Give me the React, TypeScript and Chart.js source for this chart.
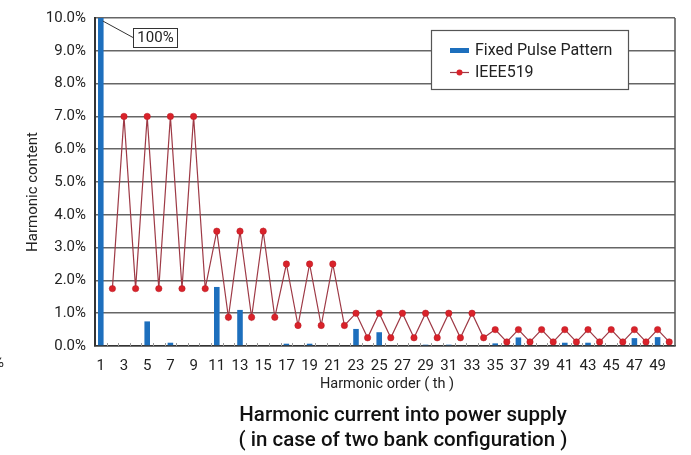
import React, { useEffect, useRef } from "react";
import { Chart, registerables } from "chart.js";

Chart.register(...registerables);

const categories = [
  "1", "2", "3", "4", "5", "6", "7", "8", "9", "10",
  "11", "12", "13", "14", "15", "16", "17", "18", "19", "20",
  "21", "22", "23", "24", "25", "26", "27", "28", "29", "30",
  "31", "32", "33", "34", "35", "36", "37", "38", "39", "40",
  "41", "42", "43", "44", "45", "46", "47", "48", "49", "50",
];

const fixedPulsePattern = [
  100, null, null, null, 0.75, null, 0.1, null, null, null,
  1.8, null, 1.1, null, null, null, 0.07, null, 0.07, null,
  null, null, 0.52, null, 0.42, null, null, null, 0.04, null,
  0.04, null, null, null, 0.08, null, 0.26, null, null, null,
  0.1, null, 0.1, null, null, null, 0.24, null, 0.27, null,
];

const ieee519 = [
  null, 1.75, 7, 1.75, 7, 1.75, 7, 1.75, 7, 1.75,
  3.5, 0.875, 3.5, 0.875, 3.5, 0.875, 2.5, 0.625, 2.5, 0.625,
  2.5, 0.625, 1, 0.25, 1, 0.25, 1, 0.25, 1, 0.25,
  1, 0.25, 1, 0.25, 0.5, 0.125, 0.5, 0.125, 0.5, 0.125,
  0.5, 0.125, 0.5, 0.125, 0.5, 0.125, 0.5, 0.125, 0.5, 0.125,
];

const yTicks = [0, 1, 2, 3, 4, 5, 6, 7, 8, 9, 10];

const titleLines = [
  "Harmonic current into power supply",
  "( in case of two bank configuration )",
];
const yTitle = "Harmonic content";
const xTitle = "Harmonic order ( th )";

const BAR_COLOR = "#1d6fbd";
const LINE_COLOR = "#9e3a46";
const POINT_COLOR = "#d9222a";
const FONT = "Roboto, 'Noto Sans', sans-serif";

const decorPlugin = {
  id: "decor",
  afterDraw(chart: any) {
    const { ctx, chartArea, scales } = chart;
    const xs = scales.x;
    ctx.save();
    // right border
    ctx.strokeStyle = "#555";
    ctx.lineWidth = 1.5;
    ctx.beginPath();
    ctx.moveTo(chartArea.right, chartArea.top);
    ctx.lineTo(chartArea.right, chartArea.bottom);
    ctx.stroke();

    // minor category ticks
    const step = xs.getPixelForValue(1) - xs.getPixelForValue(0);
    ctx.strokeStyle = "#999";
    ctx.lineWidth = 1;
    for (let i = 1; i < categories.length; i++) {
      const x = Math.round(xs.getPixelForValue(i) - step / 2) + 0.5;
      ctx.beginPath();
      ctx.moveTo(x, chartArea.bottom);
      ctx.lineTo(x, chartArea.bottom - 3);
      ctx.stroke();
    }

    // 100% annotation
    const bx = chartArea.left + 38;
    const by = chartArea.top + 10;
    const bw = 44;
    const bh = 19;
    ctx.strokeStyle = "#333";
    ctx.lineWidth = 1;
    ctx.beginPath();
    ctx.moveTo(xs.getPixelForValue(0) + 2, chartArea.top + 3);
    ctx.lineTo(bx, by + bh / 2);
    ctx.stroke();
    ctx.fillStyle = "#fff";
    ctx.fillRect(bx, by, bw, bh);
    ctx.strokeRect(bx + 0.5, by + 0.5, bw, bh);
    ctx.fillStyle = "#222";
    ctx.font = `15px ${FONT}`;
    ctx.textAlign = "center";
    ctx.textBaseline = "middle";
    ctx.fillText("100%", bx + bw / 2 + 0.5, by + bh / 2 + 1);

    // legend
    const lx = chartArea.right - 244;
    const ly = chartArea.top + 12;
    const lw = 197;
    const lh = 59;
    ctx.fillStyle = "#fff";
    ctx.fillRect(lx, ly, lw, lh);
    ctx.strokeStyle = "#555";
    ctx.lineWidth = 1.2;
    ctx.strokeRect(lx + 0.5, ly + 0.5, lw, lh);
    ctx.fillStyle = BAR_COLOR;
    ctx.fillRect(lx + 19, ly + 18, 19, 5);
    ctx.strokeStyle = LINE_COLOR;
    ctx.lineWidth = 1.2;
    ctx.beginPath();
    ctx.moveTo(lx + 19, ly + 42.5);
    ctx.lineTo(lx + 38, ly + 42.5);
    ctx.stroke();
    ctx.fillStyle = POINT_COLOR;
    ctx.beginPath();
    ctx.arc(lx + 28.5, ly + 42.5, 3, 0, Math.PI * 2);
    ctx.fill();
    ctx.fillStyle = "#222";
    ctx.font = `16px ${FONT}`;
    ctx.textAlign = "left";
    ctx.textBaseline = "middle";
    ctx.fillText("Fixed Pulse Pattern", lx + 44, ly + 20.5);
    ctx.fillText("IEEE519", lx + 44, ly + 42.5);

    // y axis title
    ctx.save();
    ctx.translate(33, 192);
    ctx.rotate(-Math.PI / 2);
    ctx.textAlign = "center";
    ctx.textBaseline = "middle";
    ctx.font = `15px ${FONT}`;
    ctx.fillStyle = "#222";
    ctx.fillText(yTitle, 0, 0);
    ctx.restore();

    // x axis title
    ctx.textAlign = "center";
    ctx.textBaseline = "middle";
    ctx.font = `14.5px ${FONT}`;
    ctx.fillStyle = "#222";
    ctx.fillText(xTitle, (chartArea.left + chartArea.right) / 2 + 2, 384);

    // chart title (below)
    ctx.font = `500 20.5px ${FONT}`;
    ctx.fillStyle = "#111";
    ctx.fillText(titleLines[0], 403, 416);
    ctx.fillText(titleLines[1], 403, 441);

    // clipped fragment at far left
    ctx.textAlign = "left";
    ctx.font = `15px ${FONT}`;
    ctx.fillStyle = "#222";
    ctx.fillText("%", -7, 363);
    ctx.restore();
  },
};

export default function App() {
  const ref = useRef<HTMLCanvasElement | null>(null);

  useEffect(() => {
    if (!ref.current) return;
    const chart = new Chart(ref.current, {
      type: "bar",
      data: {
        labels: categories,
        datasets: [
          {
            type: "line",
            label: "IEEE519",
            data: ieee519,
            borderColor: LINE_COLOR,
            borderWidth: 1.2,
            pointBackgroundColor: POINT_COLOR,
            pointBorderColor: "#b81c24",
            pointBorderWidth: 0.5,
            pointRadius: 3.2,
            tension: 0,
            spanGaps: false,
          } as any,
          {
            type: "bar",
            label: "Fixed Pulse Pattern",
            data: fixedPulsePattern,
            backgroundColor: BAR_COLOR,
            barPercentage: 0.48,
            categoryPercentage: 1,
          } as any,
        ],
      },
      options: {
        animation: false,
        responsive: true,
        maintainAspectRatio: false,
        layout: { padding: { left: 0, right: 16, top: 18, bottom: 52.5 } },
        plugins: {
          legend: { display: false },
          tooltip: { enabled: false },
          title: { display: false },
        },
        scales: {
          x: {
            type: "category",
            offset: true,
            grid: { display: false },
            border: { display: true, color: "#333", width: 1.5 },
            ticks: {
              autoSkip: false,
              maxRotation: 0,
              padding: 3,
              color: "#222",
              font: { family: FONT, size: 15 },
              callback: (_v: any, i: number) => (i % 2 === 0 ? categories[i] : ""),
            },
            afterFit: (s: any) => {
              s.height = 56.5;
            },
          },
          y: {
            min: 0,
            max: 10,
            afterBuildTicks: (s: any) => {
              s.ticks = yTicks.map((v) => ({ value: v }));
            },
            grid: { color: "#666", lineWidth: 1.5, drawTicks: false },
            border: { display: true, color: "#333", width: 2 },
            ticks: {
              padding: 9,
              color: "#222",
              font: { family: FONT, size: 15 },
              callback: (v: any) => Number(v).toFixed(1) + "%",
            },
            afterFit: (s: any) => {
              s.width = 95;
            },
          },
        },
      },
      plugins: [decorPlugin],
    });
    return () => chart.destroy();
  }, []);

  return (
    <div style={{ position: "fixed", left: 0, top: 0, width: 691, height: 455, background: "#fff" }}>
      <canvas ref={ref} />
    </div>
  );
}
